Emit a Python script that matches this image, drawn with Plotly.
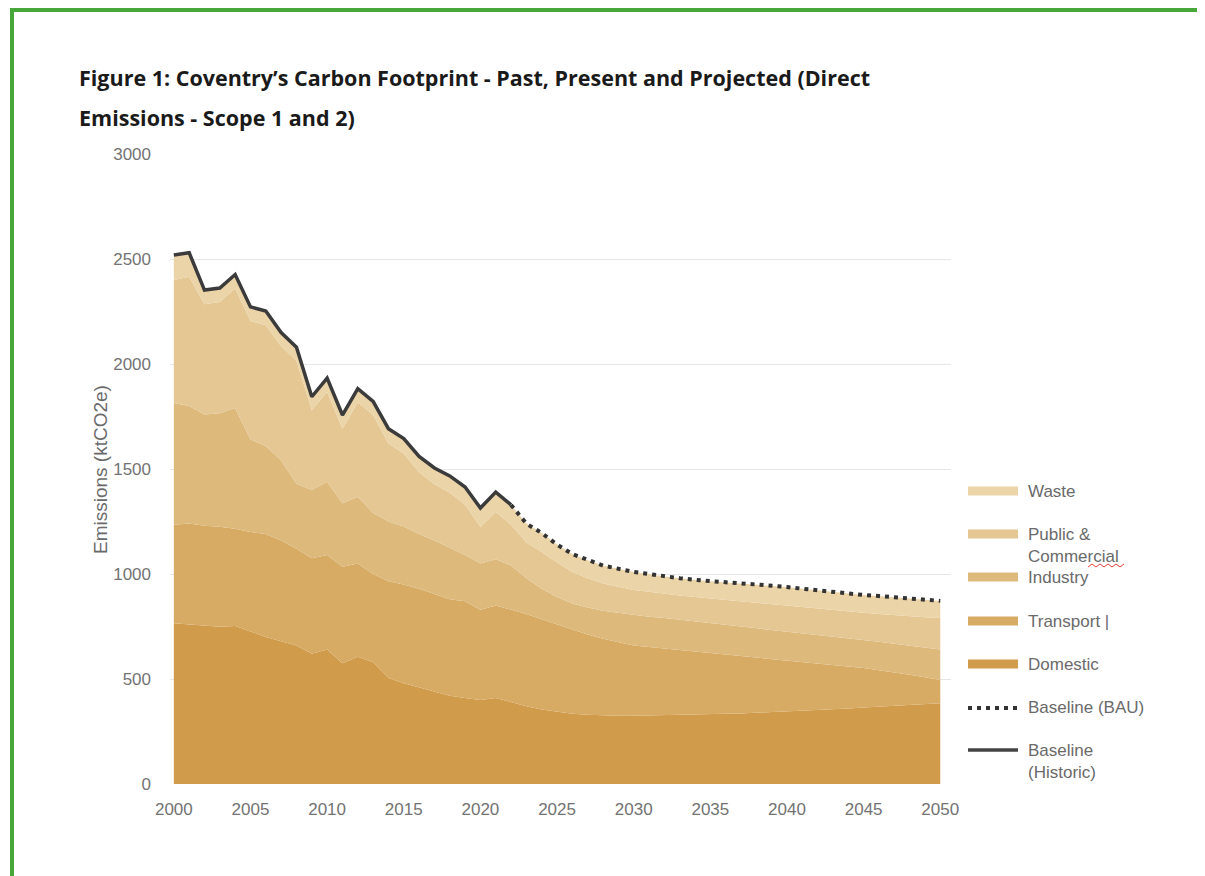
import plotly.graph_objects as go

# Coventry direct emissions (ktCO2e), 2000-2022 historic, 2023-2050 BAU projection
years = list(range(2000, 2051))

domestic = [765, 760, 752, 749, 752, 725, 700, 680, 660, 620,
            640, 575, 606, 580, 505, 480, 460, 440, 420, 410,
            400, 410, 390, 370, 355, 345, 335, 330, 327, 325,
            325, 326, 327, 328, 330, 332, 334, 336, 339, 342,
            345, 348, 352, 356, 360, 364, 368, 372, 376, 380,
            384]
transport = [470, 480, 478, 476, 463, 475, 490, 480, 460, 455,
             450, 460, 444, 420, 460, 470, 470, 465, 460, 460,
             430, 440, 440, 440, 430, 415, 400, 382, 365, 350,
             335, 326, 318, 310, 300, 291, 282, 273, 263, 253,
             243, 233, 222, 211, 199, 188, 174, 160, 144, 128,
             111]
industry = [579, 560, 530, 540, 575, 440, 420, 380, 310, 325,
            349, 302, 318, 290, 285, 276, 260, 255, 245, 220,
            220, 220, 210, 170, 145, 130, 125, 128, 133, 140,
            145, 145, 145, 144, 145, 145, 144, 143, 142, 141,
            140, 139, 138, 137, 136, 134, 135, 136, 139, 141,
            145]
public_commercial = [586, 615, 525, 530, 570, 565, 575, 545, 585, 380,
                     429, 355, 450, 467, 372, 347, 295, 267, 262, 240,
                     174, 225, 195, 170, 175, 165, 150, 140, 130, 123,
                     119, 118, 115, 116, 115, 115, 117, 118, 120, 122,
                     123, 124, 125, 126, 128, 130, 133, 136, 139, 145,
                     150]
waste = [119, 115, 67, 67, 66, 67, 67, 65, 65, 64,
         65, 65, 65, 65, 70, 72, 75, 78, 80, 84,
         90, 95, 94, 90, 90, 85, 85, 85, 85, 87,
         86, 85, 83, 82, 82, 82, 83, 85, 86, 87,
         87, 86, 85, 85, 85, 84, 85, 86, 86, 84,
         82]

last_historic_year = 2022

sectors = [
    ("Domestic", domestic, "#d09b4b"),
    ("Transport", transport, "#d7ab64"),
    ("Industry", industry, "#ddb97c"),
    ("Public & Commercial", public_commercial, "#e4c793"),
    ("Waste", waste, "#ebd4a8"),
]

totals = [sum(vals) for vals in zip(domestic, transport, industry, public_commercial, waste)]
hist_idx = years.index(last_historic_year)

fig = go.Figure()

for name, vals, col in sectors:
    fig.add_trace(go.Scatter(x=years, y=vals, name=name, stackgroup="emis",
                             mode="lines", line=dict(width=0, color=col),
                             fillcolor=col, showlegend=False))

# BAU projection (dotted) and historic baseline (solid)
fig.add_trace(go.Scatter(x=years[hist_idx:], y=totals[hist_idx:], mode="lines",
                         line=dict(color="#333333", width=4, dash="4px,5px"),
                         name="Baseline (BAU)", showlegend=False))
fig.add_trace(go.Scatter(x=years[:hist_idx + 1], y=totals[:hist_idx + 1], mode="lines",
                         line=dict(color="#3b3b3b", width=3.5),
                         name="Baseline (Historic)", showlegend=False))

# the page puts the figure 8px in from the corner; sizes below are in page pixels
OFF = 8
W, H = 1205 - OFF, 876 - OFF
L, R, T, B = 170, 951, 154, 784


def px(x):
    return (x - L) / (R - L)


def py(y):
    return (B - y) / (B - T)


shapes = []
annotations = []
txt_font = dict(family="Liberation Sans, Arial, sans-serif", size=17, color="#6a6a6a")

legend_rows = [
    ("#ebd4a8", 491, ["Waste"]),
    ("#e4c793", 534, ["Public &", "Commercial"]),
    ("#ddb97c", 577, ["Industry"]),
    ("#d7ab64", 621, ["Transport |"]),
    ("#d09b4b", 664, ["Domestic"]),
]
for col, yy, lines in legend_rows:
    shapes.append(dict(type="line", xref="paper", yref="paper",
                       x0=px(968), x1=px(1018), y0=py(yy), y1=py(yy),
                       line=dict(color=col, width=9)))
    for i, t in enumerate(lines):
        annotations.append(dict(text=t, xref="paper", yref="paper", x=px(1026), y=py(yy + i * 22),
                                xanchor="left", yanchor="middle", showarrow=False, font=txt_font))

shapes.append(dict(type="line", xref="paper", yref="paper",
                   x0=px(968), x1=px(1018), y0=py(708), y1=py(708),
                   line=dict(color="#333333", width=4, dash="4px,5px")))
annotations.append(dict(text="Baseline (BAU)", xref="paper", yref="paper", x=px(1026), y=py(707),
                        xanchor="left", yanchor="middle", showarrow=False, font=txt_font))
shapes.append(dict(type="line", xref="paper", yref="paper",
                   x0=px(968), x1=px(1018), y0=py(750), y1=py(750),
                   line=dict(color="#444444", width=3.5)))
for i, t in enumerate(["Baseline", "(Historic)"]):
    annotations.append(dict(text=t, xref="paper", yref="paper", x=px(1026), y=py(750 + i * 22),
                            xanchor="left", yanchor="middle", showarrow=False, font=txt_font))

# spell-check squiggle under "cial"
zig = []
for k in range(10):
    zx = 1088 + k * 4
    zy = 567 if k % 2 == 0 else 564
    zig.append(f"{'M' if k == 0 else 'L'} {px(zx)} {py(zy)}")
shapes.append(dict(type="path", xref="paper", yref="paper", path=" ".join(zig),
                   line=dict(color="#e0413a", width=1)))

# green frame round the figure
shapes.append(dict(type="line", xref="paper", yref="paper",
                   x0=px(12), x1=px(12), y0=py(8), y1=py(880),
                   line=dict(color="#47a73b", width=4)))
shapes.append(dict(type="line", xref="paper", yref="paper",
                   x0=px(10), x1=px(1210), y0=py(10), y1=py(10),
                   line=dict(color="#47a73b", width=4)))

# title in two lines
title_font = dict(family="Open Sans, Noto Sans, sans-serif", size=21.5, color="#1a1a1a")
annotations.append(dict(text="<b>Figure 1: Coventry’s Carbon Footprint - Past, Present and Projected (Direct</b>",
                        xref="paper", yref="paper", x=px(77), y=py(78), xanchor="left", yanchor="middle",
                        showarrow=False, font=title_font))
annotations.append(dict(text="<b>Emissions - Scope 1 and 2)</b>",
                        xref="paper", yref="paper", x=px(77), y=py(117), xanchor="left", yanchor="middle",
                        showarrow=False, font=title_font))

# y axis title
annotations.append(dict(text="Emissions (ktCO2e)", xref="paper", yref="paper", x=px(100), y=py(470),
                        xanchor="center", yanchor="middle", textangle=-90, showarrow=False,
                        font=dict(family="Liberation Sans, Arial, sans-serif", size=19, color="#6a6a6a")))

tick_font = dict(family="Liberation Sans, Arial, sans-serif", size=17, color="#737373")

fig.update_layout(
    width=W, height=H, autosize=False,
    margin=dict(l=L - OFF, r=W - (R - OFF), t=T - OFF, b=H - (B - OFF)),
    paper_bgcolor="white", plot_bgcolor="white",
    shapes=shapes, annotations=annotations,
    showlegend=False,
)
fig.update_xaxes(range=[1999.75, 2050.7], tick0=2000, dtick=5, showgrid=False, zeroline=False,
                 showline=False, ticks="", tickfont=tick_font, ticklabelstandoff=13)
fig.update_yaxes(range=[0, 3000], dtick=500, showgrid=True, gridcolor="#e6e6e6", gridwidth=1,
                 zeroline=False, showline=False, ticks="", tickfont=tick_font, ticklabelstandoff=18)

fig.write_html("out.html")
